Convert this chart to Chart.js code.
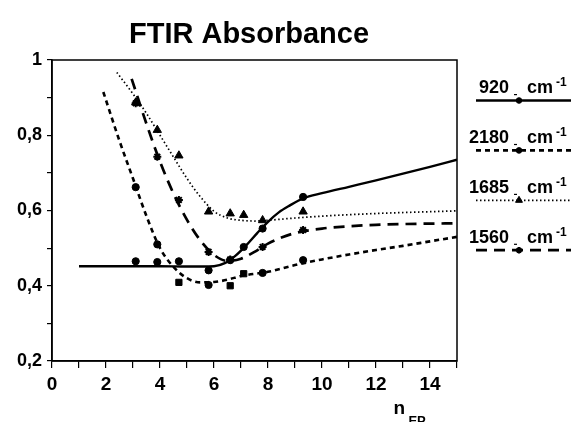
<!DOCTYPE html>
<html>
<head>
<meta charset="utf-8">
<script src="https://cdn.jsdelivr.net/npm/chart.js@4.4.0/dist/chart.umd.min.js"></script>
<style>
  html, body { margin: 0; padding: 0; background: #fff; }
  #wrap { width: 571px; height: 422px; }
</style>
</head>
<body>
<div id="wrap"><canvas id="ftir" width="571" height="422"></canvas></div>
<script>
// measured points (n_EP)
const nEP = [3.1, 3.9, 4.7, 5.8, 6.6, 7.1, 7.8, 9.3];
const abs920 = [0.465, 0.463, 0.465, 0.441, 0.468, 0.503, 0.552, 0.636];
const abs2180 = [0.662, 0.51, 0.409, 0.402, 0.40, 0.432, 0.434, 0.468];
const abs1685 = [0.887, 0.814, 0.746, 0.597, 0.592, 0.588, 0.574, 0.597];
const abs1560 = [0.885, 0.743, 0.628, 0.49, 0.47, null, 0.503, 0.548];

// fitted curves
const fitX920 = [1, 2, 3, 4, 5, 6, 6.4, 6.8, 7.2, 7.6, 8, 8.4, 8.8, 9.3, 10, 11, 12, 13, 14, 15];
const fit920 = [0.452, 0.452, 0.452, 0.452, 0.451, 0.452, 0.46, 0.48, 0.508, 0.54, 0.57, 0.595, 0.613, 0.632, 0.646, 0.663, 0.68, 0.698, 0.716, 0.735];
const fitX2180 = [1.9, 2.5, 3, 3.5, 4, 4.5, 5, 5.5, 6, 6.5, 7, 8, 9, 10, 11, 12, 13, 14, 15];
const fit2180 = [0.915, 0.785, 0.685, 0.585, 0.5, 0.45, 0.42, 0.409, 0.41, 0.416, 0.426, 0.437, 0.455, 0.47, 0.483, 0.495, 0.506, 0.518, 0.53];
const fitX1685 = [2.4, 3, 3.5, 4, 4.5, 5, 5.5, 6, 6.5, 7, 7.5, 8, 9, 10, 12, 15];
const fit1685 = [0.967, 0.91, 0.858, 0.8, 0.742, 0.685, 0.636, 0.598, 0.58, 0.574, 0.572, 0.574, 0.58, 0.585, 0.592, 0.599];
const fitX1560 = [2.95, 3.5, 4, 4.5, 5, 5.5, 6, 6.5, 7, 7.5, 8, 8.5, 9, 10, 11, 12, 13, 15];
const fit1560 = [0.95, 0.83, 0.73, 0.645, 0.575, 0.52, 0.482, 0.466, 0.472, 0.49, 0.512, 0.528, 0.54, 0.552, 0.558, 0.562, 0.564, 0.566];

const seriesNames = ['920', '2180', '1685', '1560'];
const xTitle = 'n';
const xTitleSub = 'EP';
const chartTitle = 'FTIR Absorbance';

const FONT = "'Liberation Sans', Arial, sans-serif";

const toXY = (xs, ys) => xs.map((x, i) => ({ x: x, y: ys[i] })).filter(p => p.y !== null);

const styles = [
    { dash: [], width: 2.4, point: 'circle', radius: 3.6 },
    { dash: [5, 4], width: 2.6, point: 'circle', radius: 3.6 },
    { dash: [1.5, 2.5], width: 1.7, point: 'triangle', radius: 4.8 },
    { dash: [11, 7], width: 2.7, point: 'star', radius: 4 }
];

const curveSets = [[fitX920, fit920], [fitX2180, fit2180], [fitX1685, fit1685], [fitX1560, fit1560]];
const pointSets = [abs920, abs2180, abs1685, abs1560];

const datasets = [];
curveSets.forEach(([xs, ys], i) => {
    datasets.push({
        label: seriesNames[i] + ' fit',
        data: toXY(xs, ys),
        showLine: true,
        borderColor: '#000',
        borderWidth: styles[i].width,
        borderDash: styles[i].dash,
        cubicInterpolationMode: 'monotone',
        pointRadius: 0
    });
});
const sq2180 = ['circle', 'circle', 'rect', 'circle', 'rect', 'rect', 'circle', 'circle'];
pointSets.forEach((ys, i) => {
    datasets.push({
        label: seriesNames[i],
        data: toXY(nEP, ys),
        showLine: false,
        pointStyle: i === 1 ? sq2180 : styles[i].point,
        pointRadius: i === 1 ? sq2180.map(s => (s === 'rect' ? 4.4 : 3.6)) : styles[i].radius,
        pointBackgroundColor: '#000',
        pointBorderColor: '#000',
        pointBorderWidth: i === 3 ? 2 : 1
    });
});

// box, title, legend and axis title
const decor = {
    id: 'decor',
    afterDatasetsDraw(chart) {
        const { ctx, chartArea: a } = chart;
        ctx.save();
        ctx.strokeStyle = '#000';
        ctx.lineWidth = 1.5;
        ctx.strokeRect(a.left, a.top, a.right - a.left, a.bottom - a.top);
        ctx.restore();
    },
    afterDraw(chart) {
        const { ctx } = chart;
        ctx.save();
        ctx.fillStyle = '#000';
        ctx.textBaseline = 'alphabetic';

        ctx.font = 'bold 29px ' + FONT;
        ctx.textAlign = 'center';
        ctx.fillText(chartTitle, 249, 43);

        // axis title n_EP
        const xs = chart.scales.x;
        ctx.font = 'bold 19px ' + FONT;
        ctx.textAlign = 'left';
        ctx.fillText(xTitle, xs.getPixelForValue(12.65), 414);
        ctx.font = 'bold 13px ' + FONT;
        ctx.fillText(xTitleSub, xs.getPixelForValue(13.2), 425);

        // legend
        seriesNames.forEach((name, i) => {
            const ly = 100.5 + i * 49.9;
            const st = styles[i];
            ctx.strokeStyle = '#000';
            ctx.lineWidth = st.width;
            ctx.setLineDash(st.dash);
            ctx.beginPath();
            ctx.moveTo(476, ly);
            ctx.lineTo(571, ly);
            ctx.stroke();
            ctx.setLineDash([]);
            ctx.lineWidth = i === 3 ? 2 : 1;
            Chart.helpers.drawPoint(ctx, { pointStyle: st.point, rotation: 0, radius: st.radius - 0.8, borderWidth: ctx.lineWidth }, 519, ly);

            ctx.font = 'bold 18px ' + FONT;
            ctx.textAlign = 'right';
            ctx.fillText(name, 509, ly - 7.5);
            ctx.fillRect(514, ly - 6.5, 3, 1.2);
            ctx.textAlign = 'left';
            ctx.fillText('cm', 527, ly - 7.5);
            ctx.font = 'bold 12px ' + FONT;
            ctx.fillText('-1', 556, ly - 14.5);
        });
        ctx.restore();
    }
};

new Chart(document.getElementById('ftir'), {
    type: 'scatter',
    data: { datasets: datasets },
    options: {
        responsive: false,
        animation: false,
        layout: { padding: { top: 60, right: 114, left: 0, bottom: 0 } },
        plugins: { legend: { display: false }, tooltip: { enabled: false }, title: { display: false } },
        scales: {
            x: {
                type: 'linear',
                min: 0,
                max: 15,
                afterFit: s => { s.height = 61; },
                ticks: {
                    stepSize: 1,
                    autoSkip: false,
                    maxRotation: 0,
                    color: '#000',
                    padding: 5,
                    font: { family: FONT, size: 19, weight: 'bold' },
                    callback: v => (v % 2 === 0 ? String(v) : '')
                },
                grid: { drawOnChartArea: false, drawTicks: true, tickLength: 7, color: '#000', lineWidth: 1.2 },
                border: { display: true, color: '#000', width: 1.5 }
            },
            y: {
                min: 0.2,
                max: 1,
                afterFit: s => { s.width = 52; },
                ticks: {
                    stepSize: 0.1,
                    color: '#000',
                    padding: 5,
                    font: { family: FONT, size: 18, weight: 'bold' },
                    callback: v => {
                        const k = Math.round(v * 10);
                        if (k % 2 !== 0) return '';
                        return k === 10 ? '1' : (k / 10).toFixed(1).replace('.', ',');
                    }
                },
                grid: { drawOnChartArea: false, drawTicks: true, tickLength: 5, color: '#000', lineWidth: 1.2 },
                border: { display: true, color: '#000', width: 1.5 }
            }
        }
    },
    plugins: [decor]
});
</script>
</body>
</html>
